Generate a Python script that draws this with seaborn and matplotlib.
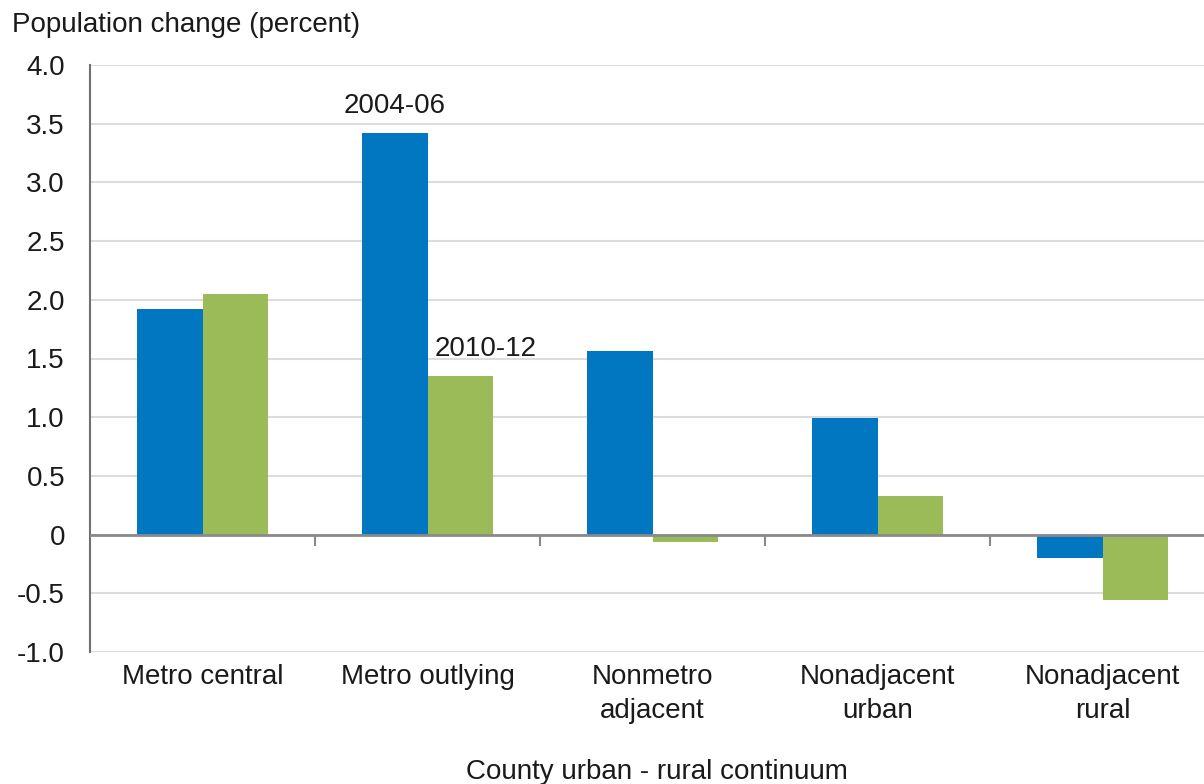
import numpy as np
import pandas as pd
import seaborn as sns
import matplotlib.pyplot as plt
from matplotlib.ticker import FuncFormatter

categories = ["Metro central", "Metro outlying", "Nonmetro\nadjacent",
              "Nonadjacent\nurban", "Nonadjacent\nrural"]
change_2004_06 = [1.92, 3.42, 1.56, 0.99, -0.20]
change_2010_12 = [2.05, 1.35, -0.06, 0.33, -0.56]
periods = ["2004-06", "2010-12"]
colors = ["#0077C0", "#9BBB59"]

df = pd.DataFrame({
    "category": categories * 2,
    "change": change_2004_06 + change_2010_12,
    "period": [periods[0]] * 5 + [periods[1]] * 5,
})

sns.set_style("white")
plt.rcParams['font.family'] = ['Liberation Sans', 'DejaVu Sans']
plt.rcParams['axes.unicode_minus'] = False

fig = plt.figure(figsize=(12.04, 7.84), dpi=100)
ax = fig.add_axes([90 / 1204, 132 / 784, 1 - 90 / 1204, 587 / 784])

sns.barplot(data=df, x="category", y="change", hue="period", palette=colors,
            width=0.58, saturation=1, linewidth=0, legend=False, ax=ax, zorder=3)

ax.set_ylim(-1.0, 4.0)
ax.set_xlim(-0.5, 4.45)
ax.set_yticks(np.arange(-1.0, 4.01, 0.5))
ax.yaxis.set_major_formatter(FuncFormatter(lambda v, p: "0" if abs(v) < 1e-9 else f"{v:.1f}"))
ax.grid(axis="y", color="#dcdcdc", linewidth=1.5, zorder=0)
ax.set_axisbelow(True)

for s in ["top", "right", "bottom"]:
    ax.spines[s].set_visible(False)
ax.spines["left"].set_color("#707070")
ax.spines["left"].set_linewidth(1.5)

ax.axhline(0, color="#8a8a8a", linewidth=2, zorder=4)
# category separator ticks on the zero line
ax.vlines(np.arange(len(categories) - 1) + 0.5, -0.1, 0, color="#8a8a8a", linewidth=1.5, zorder=4)

ax.tick_params(axis="y", length=8, width=1.5, color="#707070", pad=10, labelsize=20, labelcolor="#1a1a1a")
ax.tick_params(axis="x", length=0, pad=9, labelsize=20, labelcolor="#1a1a1a")
for lbl in ax.get_xticklabels():
    lbl.set_linespacing(1.4)
ax.set_xlabel("")
ax.set_ylabel("")

ax.text(1 - 0.145, change_2004_06[1] + 0.12, periods[0], ha="center", va="bottom", fontsize=20, color="#1a1a1a")
ax.text(1 + 0.26, change_2010_12[1] + 0.12, periods[1], ha="center", va="bottom", fontsize=20, color="#1a1a1a")

fig.text(12 / 1204, 1 - 25 / 784, "Population change (percent)", ha="left", va="center", fontsize=20, color="#1a1a1a")
fig.text(657 / 1204, 1 - 772 / 784, "County urban - rural continuum", ha="center", va="center", fontsize=20, color="#1a1a1a")

plt.savefig("out.png", dpi=100)
